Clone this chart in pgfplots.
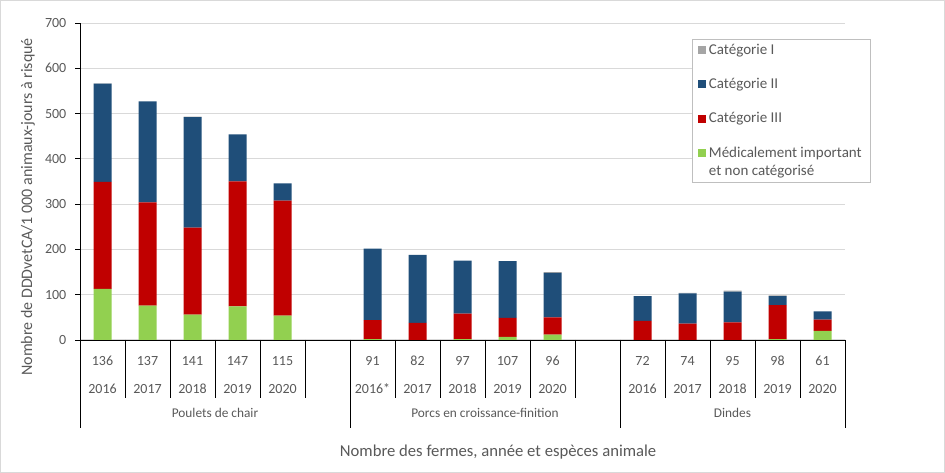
\documentclass[border=0pt]{standalone}
\usepackage{fontspec}
\setmainfont{Carlito}
\usepackage{pgfplots}
\pgfplotsset{compat=1.18}
\definecolor{cI}{HTML}{A5A5A5}
\definecolor{cII}{HTML}{1F4E79}
\definecolor{cIII}{HTML}{C00000}
\definecolor{cM}{HTML}{92D050}
\definecolor{txt}{HTML}{595959}
\definecolor{gridc}{HTML}{D9D9D9}
\definecolor{legb}{HTML}{BFBFBF}
\pgfplotsset{legimgup/.style={legend image code/.code={\fill[##1,draw=none] (0pt,3.75pt) rectangle (6pt,9.75pt);}}}
\begin{document}
\begin{tikzpicture}[lbl/.style={font=\fontsize{10}{12}\selectfont, text=txt, anchor=center, inner sep=0pt},
  num/.style={lbl, font=\fontsize{10.5}{12}\selectfont}]
\path[use as bounding box] (0,0) rectangle (708.75pt,354.75pt);
\draw[color=gridc] (0.4pt,0.4pt) rectangle (708.35pt,354.35pt);
\begin{axis}[
  at={(60pt,99.75pt)}, anchor=south west,
  scale only axis, width=573.75pt, height=237.75pt,
  ybar stacked, bar width=0.4,
  xmin=-0.5, xmax=16.5, ymin=0, ymax=700,
  ytick={0,100,...,700},
  xtick=\empty,
  axis x line*=bottom, axis y line*=left,
  ymajorgrids, grid style={color=gridc, line width=0.75pt},
  axis line style={black, line width=0.6pt},
  tick align=outside, major tick length=3.75pt,
  tick style={black, line width=0.6pt},
  /pgf/number format/assume math mode=true,
  yticklabel style={font=\fontsize{10.5}{12}\selectfont, text=txt, xshift=-3pt},
  clip=false,
  reverse legend,
  legend cell align=left,
  legend image code/.code={\fill[#1,draw=none] (0pt,-3pt) rectangle (6pt,3pt);},
  legend style={at={(0.8,0.9495)}, anchor=north west, draw=legb, fill=white,
    font=\fontsize{11.25}{13.5}\selectfont, text=txt, row sep=12.5pt,
    inner xsep=4.5pt, inner ysep=1.5pt, cells={align=left}},
]
\addplot[fill=cM, draw=none, legimgup] coordinates {(0,113) (1,76) (2,56) (3,74) (4,54) (6,2) (7,0) (8,2) (9,7) (10,12) (12,0) (13,0) (14,0) (15,2) (16,20)};
\addplot[fill=cIII, draw=none] coordinates {(0,236) (1,228) (2,192) (3,276) (4,254) (6,42) (7,38) (8,56) (9,42) (10,38) (12,42) (13,36) (14,39) (15,75) (16,25)};
\addplot[fill=cII, draw=none] coordinates {(0,217) (1,223) (2,244) (3,104) (4,38) (6,158) (7,150) (8,117) (9,125) (10,98) (12,55) (13,67) (14,68) (15,20) (16,18)};
\addplot[fill=cI, draw=none] coordinates {(0,0.5) (1,0) (2,1) (3,0) (4,0) (6,0) (7,0) (8,0) (9,0) (10,2) (12,0) (13,1) (14,2) (15,1.5) (16,0)};
\legend{Médicalement important\\et non catégorisé, Catégorie III, Catégorie II, Catégorie I}
\pgfplotsinvokeforeach{-0.5,0.5,...,16.5}{\draw[black, line width=0.6pt] (axis cs:#1,0) -- ++(0pt,-43.5pt);}
\pgfplotsinvokeforeach{-0.5,5.5,11.5,16.5}{\draw[black, line width=0.6pt] (axis cs:#1,0) -- ++(0pt,-66pt);}
\node[num, yshift=-15.75pt] at (axis cs:0,0) {136};
\node[num, yshift=-15.75pt] at (axis cs:1,0) {137};
\node[num, yshift=-15.75pt] at (axis cs:2,0) {141};
\node[num, yshift=-15.75pt] at (axis cs:3,0) {147};
\node[num, yshift=-15.75pt] at (axis cs:4,0) {115};
\node[num, yshift=-15.75pt] at (axis cs:6,0) {91};
\node[num, yshift=-15.75pt] at (axis cs:7,0) {82};
\node[num, yshift=-15.75pt] at (axis cs:8,0) {97};
\node[num, yshift=-15.75pt] at (axis cs:9,0) {107};
\node[num, yshift=-15.75pt] at (axis cs:10,0) {96};
\node[num, yshift=-15.75pt] at (axis cs:12,0) {72};
\node[num, yshift=-15.75pt] at (axis cs:13,0) {74};
\node[num, yshift=-15.75pt] at (axis cs:14,0) {95};
\node[num, yshift=-15.75pt] at (axis cs:15,0) {98};
\node[num, yshift=-15.75pt] at (axis cs:16,0) {61};
\node[num, yshift=-36.75pt] at (axis cs:0,0) {2016};
\node[num, yshift=-36.75pt] at (axis cs:1,0) {2017};
\node[num, yshift=-36.75pt] at (axis cs:2,0) {2018};
\node[num, yshift=-36.75pt] at (axis cs:3,0) {2019};
\node[num, yshift=-36.75pt] at (axis cs:4,0) {2020};
\node[num, yshift=-36.75pt] at (axis cs:6,0) {2016*};
\node[num, yshift=-36.75pt] at (axis cs:7,0) {2017};
\node[num, yshift=-36.75pt] at (axis cs:8,0) {2018};
\node[num, yshift=-36.75pt] at (axis cs:9,0) {2019};
\node[num, yshift=-36.75pt] at (axis cs:10,0) {2020};
\node[num, yshift=-36.75pt] at (axis cs:12,0) {2016};
\node[num, yshift=-36.75pt] at (axis cs:13,0) {2017};
\node[num, yshift=-36.75pt] at (axis cs:14,0) {2018};
\node[num, yshift=-36.75pt] at (axis cs:15,0) {2019};
\node[num, yshift=-36.75pt] at (axis cs:16,0) {2020};
\node[lbl, yshift=-54.75pt] at (axis cs:2.5,0) {Poulets de chair};
\node[lbl, yshift=-54.75pt] at (axis cs:8.5,0) {Porcs en croissance-finition};
\node[lbl, yshift=-54.75pt] at (axis cs:14,0) {Dindes};
\node[lbl, font=\fontsize{12.5}{15}\selectfont, yshift=-84pt] at (axis cs:8.79,0) {Nombre des fermes, année et espèces animale};
\node[lbl, font=\fontsize{12}{14}\selectfont, rotate=90] at (axis description cs:-0.068,0.42) {Nombre de DDDvetCA/1 000 animaux-jours à risqué};
\end{axis}
\end{tikzpicture}
\end{document}
